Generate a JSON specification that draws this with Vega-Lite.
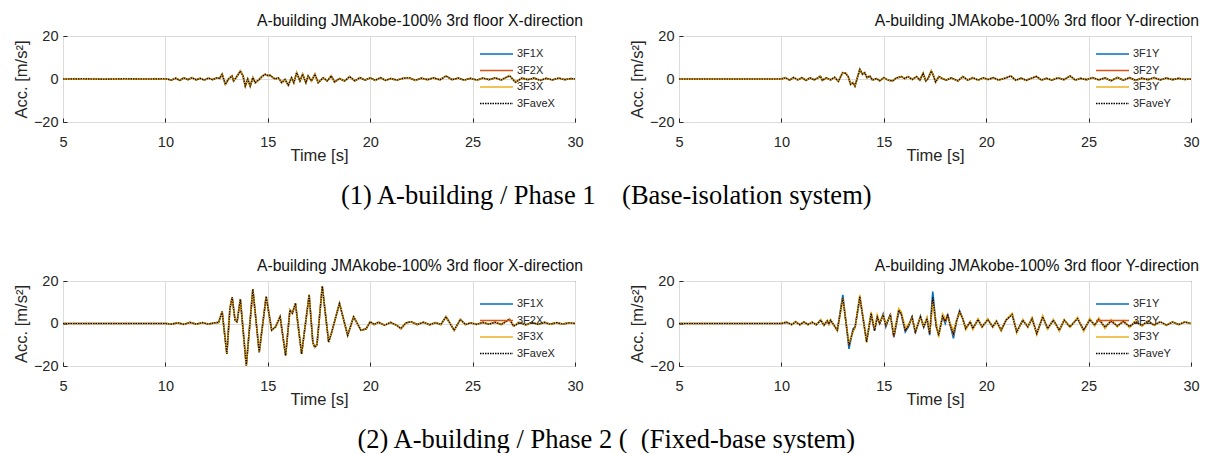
{
"$schema":"https://vega.github.io/schema/vega-lite/v6.json",
"padding":{"left":12,"top":12,"right":4,"bottom":0},
"config":{
 "view":{"stroke":"#262626","strokeWidth":1},
 "font":"Liberation Sans",
 "axis":{"labelFont":"Liberation Sans","labelFontSize":14.5,"labelColor":"#262626","titleFont":"Liberation Sans","titleFontSize":16.5,"titleFontWeight":"normal","titleColor":"#262626","gridColor":"#dcdcdc","gridWidth":1,"domain":false,"tickColor":"#262626","tickSize":-4,"labelFlush":false},
 "axisX":{"labelPadding":17,"titlePadding":-1},
 "axisY":{"labelPadding":9},
 "title":{"font":"Liberation Sans","fontSize":15.7,"fontWeight":"normal","color":"#111111","anchor":"end","offset":-2},
 "legend":{"orient":"none","legendX":439,"legendY":12,"padding":0,"symbolType":"M-5.6,0H1","symbolSize":100,"symbolStrokeWidth":1.6,"labelFont":"Liberation Sans","labelFontSize":11,"labelColor":"#262626","labelOffset":3,"rowPadding":5.5}
},
"spacing":48,
"resolve":{"scale":{"color":"independent","strokeDash":"independent"}},
"vconcat":[
{"hconcat":[
 {"width":512,"height":86,"title":"A-building JMAkobe-100% 3rd floor X-direction",
  "data":{"values":[{"t":5,"a":0},{"t":6,"a":0.1},{"t":7,"a":-0.1},{"t":8,"a":0.1},{"t":9,"a":0},{"t":10,"a":0.1},{"t":10.3,"a":-0.5},{"t":10.5,"a":0.4},{"t":10.7,"a":-0.6},{"t":10.9,"a":0.5},{"t":11.1,"a":-0.3},{"t":11.3,"a":0.6},{"t":11.5,"a":-0.4},{"t":11.7,"a":0.3},{"t":11.9,"a":-0.5},{"t":12.1,"a":0.4},{"t":12.3,"a":-0.3},{"t":12.5,"a":0.5},{"t":12.65,"a":0.3},{"t":12.77,"a":2.2},{"t":12.93,"a":-2.5},{"t":13.08,"a":0},{"t":13.25,"a":1.4},{"t":13.33,"a":-0.9},{"t":13.45,"a":0.6},{"t":13.66,"a":3.7},{"t":13.79,"a":1.4},{"t":13.9,"a":-3.3},{"t":14.02,"a":0},{"t":14.14,"a":-3.3},{"t":14.27,"a":0.6},{"t":14.39,"a":-1.7},{"t":14.55,"a":-0.5},{"t":14.71,"a":1.1},{"t":14.87,"a":2.2},{"t":15.0,"a":1.6},{"t":15.11,"a":1.7},{"t":15.35,"a":0},{"t":15.52,"a":0.5},{"t":15.68,"a":-1.7},{"t":15.84,"a":-0.2},{"t":16.0,"a":-2.9},{"t":16.16,"a":0.6},{"t":16.27,"a":-1.7},{"t":16.41,"a":2.9},{"t":16.57,"a":-0.9},{"t":16.7,"a":2.2},{"t":16.86,"a":-1.7},{"t":16.97,"a":1.4},{"t":17.13,"a":-0.9},{"t":17.3,"a":2.2},{"t":17.46,"a":-1.7},{"t":17.7,"a":0.6},{"t":17.9,"a":-0.9},{"t":18.1,"a":1.4},{"t":18.26,"a":-1.4},{"t":18.5,"a":0.2},{"t":18.75,"a":-0.9},{"t":19.0,"a":1.1},{"t":19.25,"a":-0.9},{"t":19.5,"a":0.6},{"t":19.75,"a":-0.5},{"t":20.0,"a":0.5},{"t":20.25,"a":-0.6},{"t":20.5,"a":0.6},{"t":20.75,"a":-0.6},{"t":21.0,"a":0.2},{"t":21.3,"a":-0.5},{"t":21.6,"a":0.3},{"t":21.9,"a":0.6},{"t":22.2,"a":-0.6},{"t":22.5,"a":0.4},{"t":22.8,"a":-0.3},{"t":23.1,"a":0.5},{"t":23.4,"a":-0.4},{"t":23.7,"a":1.4},{"t":24.0,"a":-0.3},{"t":24.3,"a":0.4},{"t":24.6,"a":-0.5},{"t":24.9,"a":0.3},{"t":25.2,"a":-0.5},{"t":25.5,"a":0.4},{"t":25.8,"a":-0.3},{"t":26.1,"a":0.5},{"t":26.4,"a":-0.4},{"t":26.8,"a":1.5},{"t":27.1,"a":-1.5},{"t":27.4,"a":0.4},{"t":27.7,"a":-0.3},{"t":28.0,"a":0.4},{"t":28.3,"a":-0.6},{"t":28.6,"a":0.3},{"t":28.9,"a":-0.4},{"t":29.2,"a":0.4},{"t":29.5,"a":-0.3},{"t":29.8,"a":0.2},{"t":30,"a":0}]},
  "encoding":{"x":{"field":"t","type":"quantitative","scale":{"domain":[5,30],"nice":false},"axis":{"values":[5,10,15,20,25,30],"title":"Time [s]"}}},
  "layer":[
   {"mark":{"type":"line","strokeWidth":1.6},"encoding":{"y":{"field":"a","type":"quantitative","scale":{"domain":[-20,20],"nice":false},"axis":{"values":[-20,0,20],"title":"Acc. [m/s²]"}},"color":{"datum":"3F1X","type":"nominal","scale":{"domain":["3F1X","3F2X","3F3X","3FaveX"],"range":["#0072BD","#D95319","#EDB120","#000000"]},"legend":{"title":null}},"strokeDash":{"datum":"3F1X","type":"nominal","scale":{"domain":["3F1X","3F2X","3F3X","3FaveX"],"range":[[1,0],[1,0],[1,0],[1.5,1]]},"legend":{"title":null}}}},
   {"mark":{"type":"line","strokeWidth":1.6},"encoding":{"y":{"field":"a","type":"quantitative"},"color":{"datum":"3F2X","type":"nominal"},"strokeDash":{"datum":"3F2X","type":"nominal"}}},
   {"mark":{"type":"line","strokeWidth":1.6},"encoding":{"y":{"field":"a","type":"quantitative"},"color":{"datum":"3F3X","type":"nominal"},"strokeDash":{"datum":"3F3X","type":"nominal"}}},
   {"mark":{"type":"line","strokeWidth":1.1},"encoding":{"y":{"field":"a","type":"quantitative"},"color":{"datum":"3FaveX","type":"nominal"},"strokeDash":{"datum":"3FaveX","type":"nominal"}}}
  ]},
 {"width":512,"height":86,"title":"A-building JMAkobe-100% 3rd floor Y-direction",
  "data":{"values":[{"t":5,"a":0},{"t":7,"a":0},{"t":9,"a":0},{"t":10,"a":0},{"t":10.2,"a":0.6},{"t":10.4,"a":-0.5},{"t":10.6,"a":0.7},{"t":10.8,"a":-0.4},{"t":11.0,"a":0.6},{"t":11.2,"a":-0.6},{"t":11.4,"a":0.5},{"t":11.6,"a":-0.4},{"t":11.8,"a":0.6},{"t":11.9,"a":1.3},{"t":12.0,"a":-0.6},{"t":12.2,"a":0.5},{"t":12.4,"a":-0.4},{"t":12.6,"a":0.8},{"t":12.78,"a":-1.1},{"t":12.99,"a":2.9},{"t":13.15,"a":2.6},{"t":13.27,"a":0.9},{"t":13.38,"a":-2.5},{"t":13.5,"a":-1.7},{"t":13.59,"a":-3.3},{"t":13.71,"a":0.6},{"t":13.83,"a":4.5},{"t":13.96,"a":2.2},{"t":14.07,"a":2.9},{"t":14.18,"a":0.6},{"t":14.31,"a":1.4},{"t":14.45,"a":-0.5},{"t":14.64,"a":0.2},{"t":14.8,"a":-0.8},{"t":15.0,"a":0.6},{"t":15.21,"a":-0.5},{"t":15.42,"a":-0.9},{"t":15.62,"a":0.5},{"t":15.86,"a":1.1},{"t":16.02,"a":0.2},{"t":16.18,"a":1.1},{"t":16.39,"a":-0.2},{"t":16.6,"a":1.1},{"t":16.76,"a":-0.5},{"t":16.92,"a":2.6},{"t":17.05,"a":-0.9},{"t":17.16,"a":0.2},{"t":17.32,"a":3.7},{"t":17.43,"a":1.4},{"t":17.53,"a":-1.4},{"t":17.69,"a":1.1},{"t":17.86,"a":0.2},{"t":18.05,"a":-0.5},{"t":18.3,"a":0.5},{"t":18.62,"a":-0.9},{"t":18.86,"a":1.1},{"t":19.1,"a":-0.5},{"t":19.35,"a":0.6},{"t":19.6,"a":-0.5},{"t":19.85,"a":0.5},{"t":20.1,"a":-0.2},{"t":20.35,"a":0.6},{"t":20.6,"a":-0.5},{"t":20.9,"a":0.3},{"t":21.2,"a":1.4},{"t":21.45,"a":-0.6},{"t":21.7,"a":0.4},{"t":21.95,"a":-0.6},{"t":22.2,"a":0.3},{"t":22.45,"a":1.2},{"t":22.7,"a":-0.5},{"t":22.95,"a":0.3},{"t":23.2,"a":-0.5},{"t":23.5,"a":0.5},{"t":23.8,"a":-0.3},{"t":24.1,"a":1.4},{"t":24.35,"a":-0.5},{"t":24.6,"a":0.3},{"t":24.9,"a":-0.3},{"t":25.2,"a":0.6},{"t":25.5,"a":-0.4},{"t":25.8,"a":0.5},{"t":26.1,"a":-0.8},{"t":26.4,"a":0.7},{"t":26.7,"a":-0.5},{"t":27.0,"a":0.6},{"t":27.3,"a":-0.6},{"t":27.6,"a":0.4},{"t":27.9,"a":-0.3},{"t":28.2,"a":0.6},{"t":28.5,"a":-0.4},{"t":28.8,"a":0.4},{"t":29.1,"a":-0.3},{"t":29.4,"a":0.3},{"t":29.7,"a":-0.2},{"t":30,"a":0}]},
  "encoding":{"x":{"field":"t","type":"quantitative","scale":{"domain":[5,30],"nice":false},"axis":{"values":[5,10,15,20,25,30],"title":"Time [s]"}}},
  "layer":[
   {"mark":{"type":"line","strokeWidth":1.6},"encoding":{"y":{"field":"a","type":"quantitative","scale":{"domain":[-20,20],"nice":false},"axis":{"values":[-20,0,20],"title":"Acc. [m/s²]"}},"color":{"datum":"3F1Y","type":"nominal","scale":{"domain":["3F1Y","3F2Y","3F3Y","3FaveY"],"range":["#0072BD","#D95319","#EDB120","#000000"]},"legend":{"title":null}},"strokeDash":{"datum":"3F1Y","type":"nominal","scale":{"domain":["3F1Y","3F2Y","3F3Y","3FaveY"],"range":[[1,0],[1,0],[1,0],[1.5,1]]},"legend":{"title":null}}}},
   {"mark":{"type":"line","strokeWidth":1.6},"encoding":{"y":{"field":"a","type":"quantitative"},"color":{"datum":"3F2Y","type":"nominal"},"strokeDash":{"datum":"3F2Y","type":"nominal"}}},
   {"mark":{"type":"line","strokeWidth":1.6},"encoding":{"y":{"field":"a","type":"quantitative"},"color":{"datum":"3F3Y","type":"nominal"},"strokeDash":{"datum":"3F3Y","type":"nominal"}}},
   {"mark":{"type":"line","strokeWidth":1.1},"encoding":{"y":{"field":"a","type":"quantitative"},"color":{"datum":"3FaveY","type":"nominal"},"strokeDash":{"datum":"3FaveY","type":"nominal"}}}
  ]}
 ],
 "spacing":44,
 "resolve":{"scale":{"color":"independent","strokeDash":"independent"}},
 "title":{"text":"(1) A-building / Phase 1\u00a0\u00a0\u00a0\u00a0(Base-isolation system)","orient":"bottom","anchor":"middle","font":"Liberation Serif","fontSize":26.5,"color":"#000000","offset":18}
},
{"hconcat":[
 {"width":512,"height":85,"title":"A-building JMAkobe-100% 3rd floor X-direction",
  "data":{"values":[{"t":5,"a":0},{"t":7,"a":0},{"t":9,"a":0},{"t":10,"a":0},{"t":10.3,"a":-0.3},{"t":10.6,"a":0.3},{"t":10.9,"a":-0.4},{"t":11.2,"a":0.5},{"t":11.5,"a":-0.3},{"t":11.8,"a":0.4},{"t":12.1,"a":-0.3},{"t":12.4,"a":0.3},{"t":12.6,"a":0.5},{"t":12.77,"a":5.6},{"t":13.0,"a":-14.3},{"t":13.15,"a":7},{"t":13.26,"a":12.4},{"t":13.4,"a":1.6},{"t":13.5,"a":0.8},{"t":13.66,"a":11.4},{"t":13.95,"a":-19.8},{"t":14.27,"a":16.2},{"t":14.58,"a":-13.5},{"t":14.92,"a":12.7},{"t":15.19,"a":-3.2},{"t":15.38,"a":-1.6},{"t":15.6,"a":3.2},{"t":15.87,"a":-15},{"t":16.08,"a":6.3},{"t":16.2,"a":4.8},{"t":16.35,"a":9.5},{"t":16.65,"a":-14.3},{"t":17.02,"a":13.5},{"t":17.2,"a":-9},{"t":17.29,"a":-11.1},{"t":17.4,"a":-10},{"t":17.66,"a":17.5},{"t":17.97,"a":-8.7},{"t":18.1,"a":-4.8},{"t":18.5,"a":9.5},{"t":18.9,"a":-5.6},{"t":19.19,"a":3.2},{"t":19.55,"a":-3.2},{"t":19.8,"a":-2.5},{"t":20.0,"a":0.8},{"t":20.2,"a":-0.5},{"t":20.4,"a":0.6},{"t":20.7,"a":-0.8},{"t":21.0,"a":0.5},{"t":21.3,"a":-0.9},{"t":21.5,"a":-2.4},{"t":21.75,"a":0.3},{"t":22.0,"a":0.8},{"t":22.3,"a":-0.5},{"t":22.6,"a":0.6},{"t":22.9,"a":-0.6},{"t":23.2,"a":0.4},{"t":23.45,"a":-0.5},{"t":23.7,"a":3.2},{"t":24.1,"a":-3.2},{"t":24.4,"a":1.9},{"t":24.65,"a":-0.5},{"t":24.9,"a":0.3},{"t":25.2,"a":-0.4},{"t":25.5,"a":0.5},{"t":25.8,"a":-0.3},{"t":26.1,"a":0.6},{"t":26.4,"a":-0.5},{"t":26.8,"a":2.0},{"t":27.0,"a":-1.2},{"t":27.3,"a":0.4},{"t":27.6,"a":-0.6},{"t":27.9,"a":0.5},{"t":28.2,"a":-0.4},{"t":28.5,"a":0.5},{"t":28.8,"a":-0.3},{"t":29.1,"a":0.4},{"t":29.4,"a":-0.3},{"t":29.7,"a":0.3},{"t":30,"a":0}]},
  "encoding":{"x":{"field":"t","type":"quantitative","scale":{"domain":[5,30],"nice":false},"axis":{"values":[5,10,15,20,25,30],"title":"Time [s]"}}},
  "layer":[
   {"mark":{"type":"line","strokeWidth":1.6},"encoding":{"y":{"field":"a","type":"quantitative","scale":{"domain":[-20,20],"nice":false},"axis":{"values":[-20,0,20],"title":"Acc. [m/s²]"}},"color":{"datum":"3F1X","type":"nominal","scale":{"domain":["3F1X","3F2X","3F3X","3FaveX"],"range":["#0072BD","#D95319","#EDB120","#000000"]},"legend":{"title":null,"legendY":17}},"strokeDash":{"datum":"3F1X","type":"nominal","scale":{"domain":["3F1X","3F2X","3F3X","3FaveX"],"range":[[1,0],[1,0],[1,0],[1.5,1]]},"legend":{"title":null,"legendY":17}}}},
   {"mark":{"type":"line","strokeWidth":1.6},"encoding":{"y":{"field":"a","type":"quantitative"},"color":{"datum":"3F2X","type":"nominal"},"strokeDash":{"datum":"3F2X","type":"nominal"}}},
   {"mark":{"type":"line","strokeWidth":1.6},"encoding":{"y":{"field":"a","type":"quantitative"},"color":{"datum":"3F3X","type":"nominal"},"strokeDash":{"datum":"3F3X","type":"nominal"}}},
   {"mark":{"type":"line","strokeWidth":1.1},"encoding":{"y":{"field":"a","type":"quantitative"},"color":{"datum":"3FaveX","type":"nominal"},"strokeDash":{"datum":"3FaveX","type":"nominal"}}}
  ]},
 {"width":512,"height":85,"title":"A-building JMAkobe-100% 3rd floor Y-direction",
  "data":{"values":[{"t":5,"b":0,"o":0,"y":0,"m":0},{"t":7,"b":0,"o":0,"y":0,"m":0},{"t":9,"b":0,"o":0,"y":0,"m":0},{"t":10,"b":0,"o":0,"y":0,"m":0},{"t":10.25,"b":0.6,"o":0.6,"y":0.7,"m":0.6},{"t":10.5,"b":-0.5,"o":-0.5,"y":-0.6,"m":-0.5},{"t":10.7,"b":0.8,"o":0.8,"y":0.9,"m":0.8},{"t":10.9,"b":-0.6,"o":-0.6,"y":-0.7,"m":-0.6},{"t":11.1,"b":0.7,"o":0.7,"y":0.8,"m":0.7},{"t":11.3,"b":-0.5,"o":-0.5,"y":-0.6,"m":-0.5},{"t":11.5,"b":0.6,"o":0.6,"y":0.7,"m":0.6},{"t":11.7,"b":-0.6,"o":-0.6,"y":-0.7,"m":-0.6},{"t":11.92,"b":1.6,"o":1.6,"y":1.8,"m":1.6},{"t":12.08,"b":-0.8,"o":-0.8,"y":-0.9,"m":-0.8},{"t":12.24,"b":1.3,"o":1.3,"y":1.5,"m":1.3},{"t":12.32,"b":-0.3,"o":-0.3,"y":-0.3,"m":-0.3},{"t":12.4,"b":1.6,"o":1.6,"y":1.8,"m":1.6},{"t":12.55,"b":-0.6,"o":-0.6,"y":-0.7,"m":-0.6},{"t":12.73,"b":-3.2,"o":-3.2,"y":-3.5,"m":-3.2},{"t":13.0,"b":13.5,"o":12,"y":11.5,"m":11.9},{"t":13.3,"b":-11.9,"o":-10.3,"y":-9.5,"m":-10.3},{"t":13.5,"b":-2.5,"o":-3.2,"y":-3.8,"m":-3.2},{"t":13.6,"b":-1.6,"o":-1.6,"y":-2,"m":-1.6},{"t":13.83,"b":12,"o":12.7,"y":13.5,"m":12.7},{"t":14.16,"b":-8,"o":-8.7,"y":-9,"m":-8.7},{"t":14.38,"b":4,"o":4.8,"y":5.5,"m":4.8},{"t":14.55,"b":-3.5,"o":-3.2,"y":-2.5,"m":-3.2},{"t":14.68,"b":3,"o":3.2,"y":4,"m":3.2},{"t":14.8,"b":0,"o":0,"y":0.5,"m":0},{"t":14.97,"b":4.5,"o":4,"y":3.5,"m":4},{"t":15.1,"b":-1.5,"o":-1,"y":-0.5,"m":-1},{"t":15.32,"b":4.5,"o":4,"y":3.5,"m":4},{"t":15.49,"b":-6.5,"o":-6.3,"y":-5,"m":-6},{"t":15.73,"b":5.5,"o":6.3,"y":7,"m":6.3},{"t":15.85,"b":4.5,"o":4.8,"y":5.5,"m":4.8},{"t":16.05,"b":-4,"o":-3.2,"y":-2,"m":-3.2},{"t":16.2,"b":-1.6,"o":-1.2,"y":-0.5,"m":-1.2},{"t":16.38,"b":3.2,"o":3,"y":2.5,"m":3},{"t":16.54,"b":-4.5,"o":-4,"y":-3.5,"m":-4},{"t":16.79,"b":3.5,"o":3.2,"y":3,"m":3.2},{"t":16.95,"b":-1.8,"o":-1.6,"y":-1.2,"m":-1.6},{"t":17.11,"b":2.4,"o":2.4,"y":2.8,"m":2.4},{"t":17.24,"b":-5.5,"o":-4.8,"y":-4,"m":-4.8},{"t":17.39,"b":15,"o":11,"y":9.5,"m":12.5},{"t":17.56,"b":-1.6,"o":-1,"y":0.5,"m":-1.2},{"t":17.68,"b":-5,"o":-5.6,"y":-6.5,"m":-5.6},{"t":17.87,"b":3.2,"o":3.5,"y":4.5,"m":3.5},{"t":18.0,"b":0,"o":1,"y":2.5,"m":1},{"t":18.12,"b":4.5,"o":4,"y":2.5,"m":3.8},{"t":18.25,"b":-1,"o":-1,"y":0,"m":-1},{"t":18.4,"b":-7,"o":-5,"y":-3.5,"m":-4.8},{"t":18.55,"b":1,"o":1,"y":1.5,"m":1},{"t":18.7,"b":6,"o":5.6,"y":5,"m":5.6},{"t":18.85,"b":2.4,"o":2.4,"y":2.4,"m":2.4},{"t":19.0,"b":-2.4,"o":-2.4,"y":-3,"m":-2.4},{"t":19.22,"b":0.8,"o":0.8,"y":0.8,"m":0.8},{"t":19.35,"b":-2.4,"o":-2.4,"y":-2.8,"m":-2.4},{"t":19.6,"b":1.9,"o":1.9,"y":2.2,"m":1.9},{"t":19.8,"b":-1.6,"o":-1.6,"y":-1.8,"m":-1.6},{"t":20.08,"b":1.9,"o":1.9,"y":2.2,"m":1.9},{"t":20.32,"b":-1.6,"o":-1.6,"y":-1.8,"m":-1.6},{"t":20.5,"b":1.1,"o":1.1,"y":1.2,"m":1.1},{"t":20.73,"b":-3.2,"o":-3.2,"y":-3.6,"m":-3.2},{"t":20.97,"b":1.6,"o":1.6,"y":1.8,"m":1.6},{"t":21.27,"b":4.3,"o":4.3,"y":4.8,"m":4.3},{"t":21.49,"b":-4,"o":-4,"y":-4.5,"m":-4},{"t":21.79,"b":1.6,"o":1.6,"y":1.8,"m":1.6},{"t":22.03,"b":-1.6,"o":-1.6,"y":-1.8,"m":-1.6},{"t":22.24,"b":2.4,"o":2.4,"y":2.8,"m":2.4},{"t":22.47,"b":-4.8,"o":-4.8,"y":-5.3,"m":-4.8},{"t":22.76,"b":3.2,"o":3.2,"y":3.6,"m":3.2},{"t":23.0,"b":-2.4,"o":-2.4,"y":-2.7,"m":-2.4},{"t":23.28,"b":1.6,"o":1.6,"y":1.8,"m":1.6},{"t":23.57,"b":-3.2,"o":-3.2,"y":-3.6,"m":-3.2},{"t":23.81,"b":1.6,"o":1.6,"y":1.8,"m":1.6},{"t":24.09,"b":-1.6,"o":-1.6,"y":-1.8,"m":-1.6},{"t":24.46,"b":2.4,"o":2.4,"y":2.9,"m":2.4},{"t":24.76,"b":-3.2,"o":-3.2,"y":-3.7,"m":-3.2},{"t":25.06,"b":1.9,"o":1.9,"y":2.4,"m":1.9},{"t":25.3,"b":-0.8,"o":-0.8,"y":-1.2,"m":-0.8},{"t":25.5,"b":2,"o":2,"y":2.6,"m":2},{"t":25.8,"b":-1.8,"o":-1.8,"y":-2.4,"m":-1.8},{"t":26.1,"b":1.2,"o":1.2,"y":1.8,"m":1.2},{"t":26.4,"b":-1.2,"o":-1.2,"y":-1.6,"m":-1.2},{"t":26.7,"b":1,"o":1,"y":1.4,"m":1},{"t":27.0,"b":-1.5,"o":-1.5,"y":-1.9,"m":-1.5},{"t":27.3,"b":0.9,"o":0.9,"y":1.2,"m":0.9},{"t":27.6,"b":-1,"o":-1,"y":-1.3,"m":-1},{"t":27.9,"b":1.2,"o":1.2,"y":1.4,"m":1.2},{"t":28.2,"b":-0.8,"o":-0.8,"y":-0.9,"m":-0.8},{"t":28.5,"b":0.8,"o":0.8,"y":0.9,"m":0.8},{"t":28.8,"b":-0.8,"o":-0.8,"y":-0.9,"m":-0.8},{"t":29.1,"b":0.7,"o":0.7,"y":0.8,"m":0.7},{"t":29.4,"b":-0.5,"o":-0.5,"y":-0.6,"m":-0.5},{"t":29.7,"b":0.7,"o":0.7,"y":0.8,"m":0.7},{"t":30,"b":0,"o":0,"y":0,"m":0}]},
  "encoding":{"x":{"field":"t","type":"quantitative","scale":{"domain":[5,30],"nice":false},"axis":{"values":[5,10,15,20,25,30],"title":"Time [s]"}}},
  "layer":[
   {"mark":{"type":"line","strokeWidth":1.6},"encoding":{"y":{"field":"b","type":"quantitative","scale":{"domain":[-20,20],"nice":false},"axis":{"values":[-20,0,20],"title":"Acc. [m/s²]"}},"color":{"datum":"3F1Y","type":"nominal","scale":{"domain":["3F1Y","3F2Y","3F3Y","3FaveY"],"range":["#0072BD","#D95319","#EDB120","#000000"]},"legend":{"title":null,"legendY":17}},"strokeDash":{"datum":"3F1Y","type":"nominal","scale":{"domain":["3F1Y","3F2Y","3F3Y","3FaveY"],"range":[[1,0],[1,0],[1,0],[1.5,1]]},"legend":{"title":null,"legendY":17}}}},
   {"mark":{"type":"line","strokeWidth":1.6},"encoding":{"y":{"field":"o","type":"quantitative"},"color":{"datum":"3F2Y","type":"nominal"},"strokeDash":{"datum":"3F2Y","type":"nominal"}}},
   {"mark":{"type":"line","strokeWidth":1.6},"encoding":{"y":{"field":"y","type":"quantitative"},"color":{"datum":"3F3Y","type":"nominal"},"strokeDash":{"datum":"3F3Y","type":"nominal"}}},
   {"mark":{"type":"line","strokeWidth":1.1},"encoding":{"y":{"field":"m","type":"quantitative"},"color":{"datum":"3FaveY","type":"nominal"},"strokeDash":{"datum":"3FaveY","type":"nominal"}}}
  ]}
 ],
 "spacing":44,
 "resolve":{"scale":{"color":"independent","strokeDash":"independent"}},
 "title":{"text":"(2) A-building / Phase 2 (\u00a0\u00a0(Fixed-base system)","orient":"bottom","anchor":"middle","font":"Liberation Serif","fontSize":26.5,"color":"#000000","offset":18}
}
]
}
